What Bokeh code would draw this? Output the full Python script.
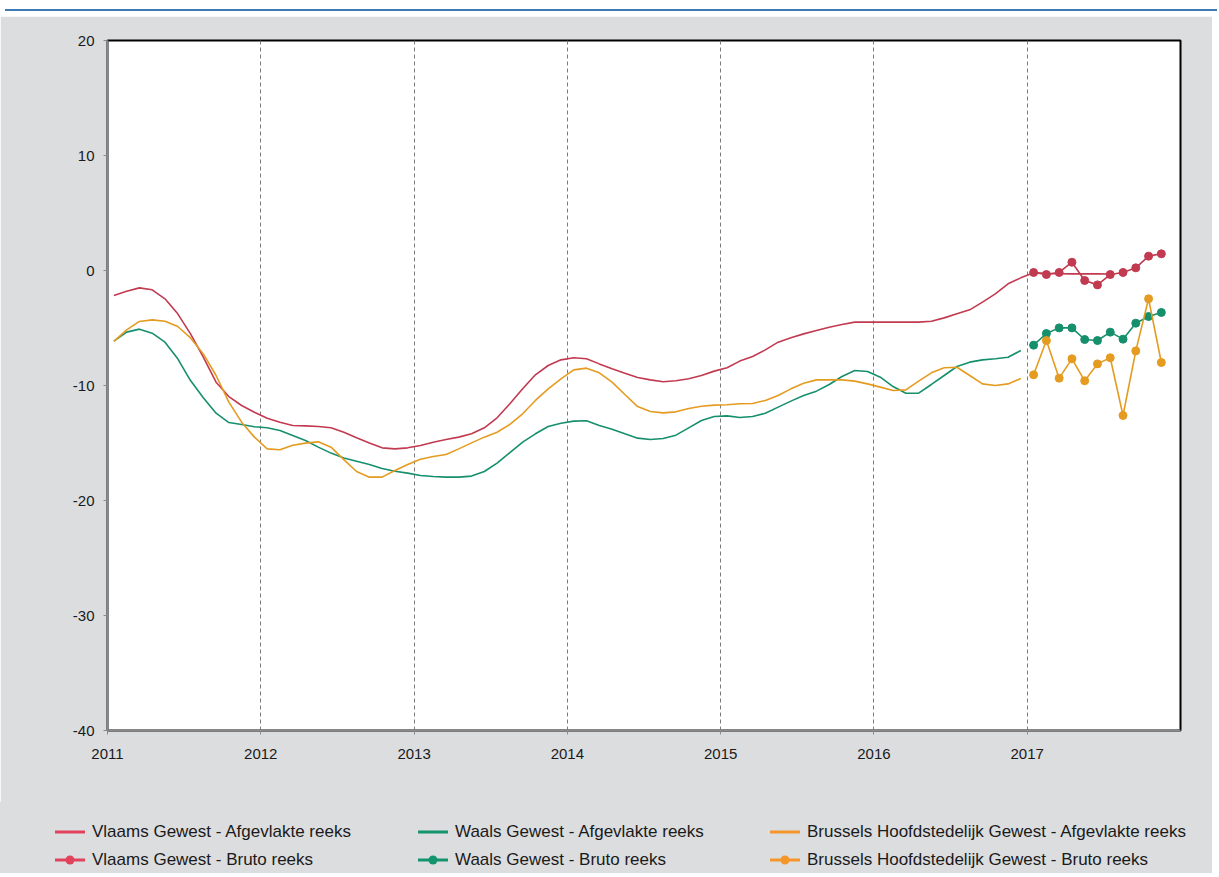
from bokeh.plotting import figure
from bokeh.models import ColumnDataSource, FixedTicker, Range1d, Div
from bokeh.layouts import column
from bokeh.embed import file_html
from bokeh.resources import INLINE

# ---------------- data ----------------
smooth_start = (2011, 1)   # first month of the smoothed series
bruto_start = (2017, 1)    # first month of the raw series

vlaams_afgevlakt = [
    -2.17, -1.80, -1.51, -1.68, -2.46, -3.77, -5.51, -7.54, -9.71, -10.96, -11.74, -12.32,
    -12.84, -13.19, -13.48, -13.51, -13.57, -13.68, -14.06, -14.55, -14.99, -15.42, -15.51, -15.42,
    -15.22, -14.93, -14.70, -14.49, -14.20, -13.68, -12.81, -11.59, -10.29, -9.07, -8.26, -7.77,
    -7.59, -7.68, -8.12, -8.55, -8.93, -9.30, -9.51, -9.68, -9.59, -9.42, -9.13, -8.75,
    -8.46, -7.88, -7.48, -6.90, -6.23, -5.85, -5.51, -5.22, -4.93, -4.70, -4.49, -4.49,
    -4.49, -4.49, -4.49, -4.49, -4.41, -4.12, -3.77, -3.42, -2.75, -2.03, -1.16, -0.64,
    -0.20, -0.25, -0.28, -0.29, -0.29, -0.29, -0.30,
]
waals_afgevlakt = [
    -6.14, -5.36, -5.10, -5.45, -6.23, -7.68, -9.57, -11.07, -12.41, -13.22, -13.39, -13.59,
    -13.68, -13.91, -14.35, -14.78, -15.36, -15.88, -16.30, -16.58, -16.87, -17.22, -17.45, -17.62,
    -17.83, -17.91, -17.97, -17.97, -17.88, -17.48, -16.75, -15.83, -14.93, -14.20, -13.57, -13.28,
    -13.10, -13.07, -13.48, -13.80, -14.20, -14.58, -14.70, -14.61, -14.32, -13.68, -13.04, -12.70,
    -12.64, -12.78, -12.70, -12.41, -11.88, -11.36, -10.87, -10.49, -9.91, -9.22, -8.70, -8.78,
    -9.28, -10.09, -10.67, -10.67, -9.91, -9.13, -8.35, -7.97, -7.77, -7.68, -7.54, -6.96,
]
brussel_afgevlakt = [
    -6.17, -5.16, -4.43, -4.29, -4.41, -4.87, -5.86, -7.25, -9.13, -11.45, -13.19, -14.49,
    -15.51, -15.59, -15.19, -15.01, -14.90, -15.36, -16.45, -17.48, -17.97, -17.97, -17.39, -16.87,
    -16.41, -16.17, -16.00, -15.51, -14.99, -14.49, -14.06, -13.39, -12.46, -11.30, -10.29, -9.42,
    -8.64, -8.49, -8.90, -9.71, -10.78, -11.83, -12.26, -12.38, -12.29, -12.00, -11.80, -11.71,
    -11.68, -11.59, -11.57, -11.30, -10.87, -10.29, -9.80, -9.51, -9.51, -9.51, -9.62, -9.86,
    -10.14, -10.43, -10.38, -9.62, -8.90, -8.46, -8.41, -9.13, -9.86, -10.00, -9.86, -9.39,
]
vlaams_bruto = [-0.17, -0.35, -0.17, 0.72, -0.87, -1.25, -0.35, -0.17, 0.23, 1.25, 1.45]
waals_bruto = [-6.49, -5.48, -4.99, -4.99, -6.00, -6.09, -5.36, -5.97, -4.58, -4.00, -3.65]
brussel_bruto = [-9.07, -6.09, -9.36, -7.68, -9.59, -8.12, -7.59, -12.61, -6.99, -2.46, -8.00]

year_ticks = [2011, 2012, 2013, 2014, 2015, 2016, 2017]
y_ticks = [-40, -30, -20, -10, 0, 10, 20]
y_tick_labels = ["-40", "-30", "-20", "-10", "0", "10", "20"]

labels = [
    "Vlaams Gewest - Afgevlakte reeks", "Vlaams Gewest - Bruto reeks",
    "Waals Gewest - Afgevlakte reeks", "Waals Gewest - Bruto reeks",
    "Brussels Hoofdstedelijk Gewest - Afgevlakte reeks", "Brussels Hoofdstedelijk Gewest - Bruto reeks",
]


def month_x(start, n):
    y0, m0 = start
    return [y0 + (m0 - 1 + k + 0.5) / 12 for k in range(n)]


# ---------------- style ----------------
RED, GREEN, ORANGE = "#c23a50", "#168f6d", "#e49b20"
RED_L, GREEN_L, ORANGE_L = "#e2425c", "#14946c", "#f4962a"
BG = "#dcdddf"
FONT = "Liberation Sans"
W = 1212
LEG_H = 71

p = figure(width=W, height=786, x_range=Range1d(2011, 2018), y_range=Range1d(-40, 20),
           output_backend="svg", toolbar_location=None,
           min_border_left=107, min_border_right=32, min_border_top=24, min_border_bottom=72,
           background_fill_color="white", border_fill_color=BG)

p.outline_line_color = "black"
p.outline_line_width = 2

p.xaxis.ticker = FixedTicker(ticks=year_ticks)
p.yaxis.ticker = FixedTicker(ticks=y_ticks)
p.yaxis.major_label_overrides = {t: l for t, l in zip(y_ticks, y_tick_labels)}
for ax in (p.xaxis, p.yaxis):
    ax.axis_line_color = "#8a8a8a"
    ax.axis_line_width = 2
    ax.major_tick_line_color = "#8a8a8a"
    ax.major_tick_out = 4
    ax.major_tick_in = 0
    ax.minor_tick_line_color = None
    ax.major_label_text_font = FONT
    ax.major_label_text_font_size = "15px"
    ax.major_label_text_color = "#1a1a1a"
p.xaxis.major_label_standoff = 14
p.yaxis.major_label_standoff = 9

p.ygrid.visible = False
p.xgrid.grid_line_color = "#7a7a7a"
p.xgrid.grid_line_dash = "4 3"
p.xgrid.grid_line_width = 1

series = [
    (vlaams_afgevlakt, vlaams_bruto, RED),
    (waals_afgevlakt, waals_bruto, GREEN),
    (brussel_afgevlakt, brussel_bruto, ORANGE),
]
for smooth, bruto, col in series:
    s = ColumnDataSource(dict(x=month_x(smooth_start, len(smooth)), y=smooth))
    p.line("x", "y", source=s, line_color=col, line_width=1.6)
for smooth, bruto, col in series:
    b = ColumnDataSource(dict(x=month_x(bruto_start, len(bruto)), y=bruto))
    p.line("x", "y", source=b, line_color=col, line_width=1.6)
    p.scatter("x", "y", source=b, size=8, fill_color=col, line_color=col)

# ---------------- legend strip (HTML) ----------------
leg_cols = [RED_L, GREEN_L, ORANGE_L]
col_lefts = [55, 418, 770]
row_tops = [20, 48]
parts = []
for k, c in enumerate(leg_cols):
    for r in range(2):
        marker = f'<circle cx="15" cy="10" r="4.5" fill="{c}"/>' if r == 1 else ""
        parts.append(
            f'<div style="position:absolute;left:{col_lefts[k]}px;top:{row_tops[r]}px;height:20px;'
            f'display:flex;align-items:center;white-space:nowrap;">'
            f'<svg width="30" height="20" style="display:block"><line x1="0" y1="10" x2="30" y2="10" '
            f'stroke="{c}" stroke-width="3"/>{marker}</svg>'
            f'<span style="margin-left:7px;line-height:20px;">{labels[2 * k + r]}</span></div>'
        )
legend_html = (
    f'<div style="position:relative;width:{W}px;height:{LEG_H}px;background:{BG};'
    f'font-family:\'{FONT}\';font-size:17px;color:#1a1a1a;">' + "".join(parts) + "</div>"
)
legend_div = Div(text=legend_html, width=W, height=LEG_H,
                 styles={"background-color": BG, "margin": "0", "padding": "0"})

top_bar = Div(text="", width=W, height=6,
              styles={"background": "linear-gradient(to bottom, white 0px, white 4px, #3d7ab8 4px, #3d7ab8 6px)"})

layout = column(top_bar, p, legend_div, spacing=0)
open("out.html", "w").write(file_html(layout, INLINE))
